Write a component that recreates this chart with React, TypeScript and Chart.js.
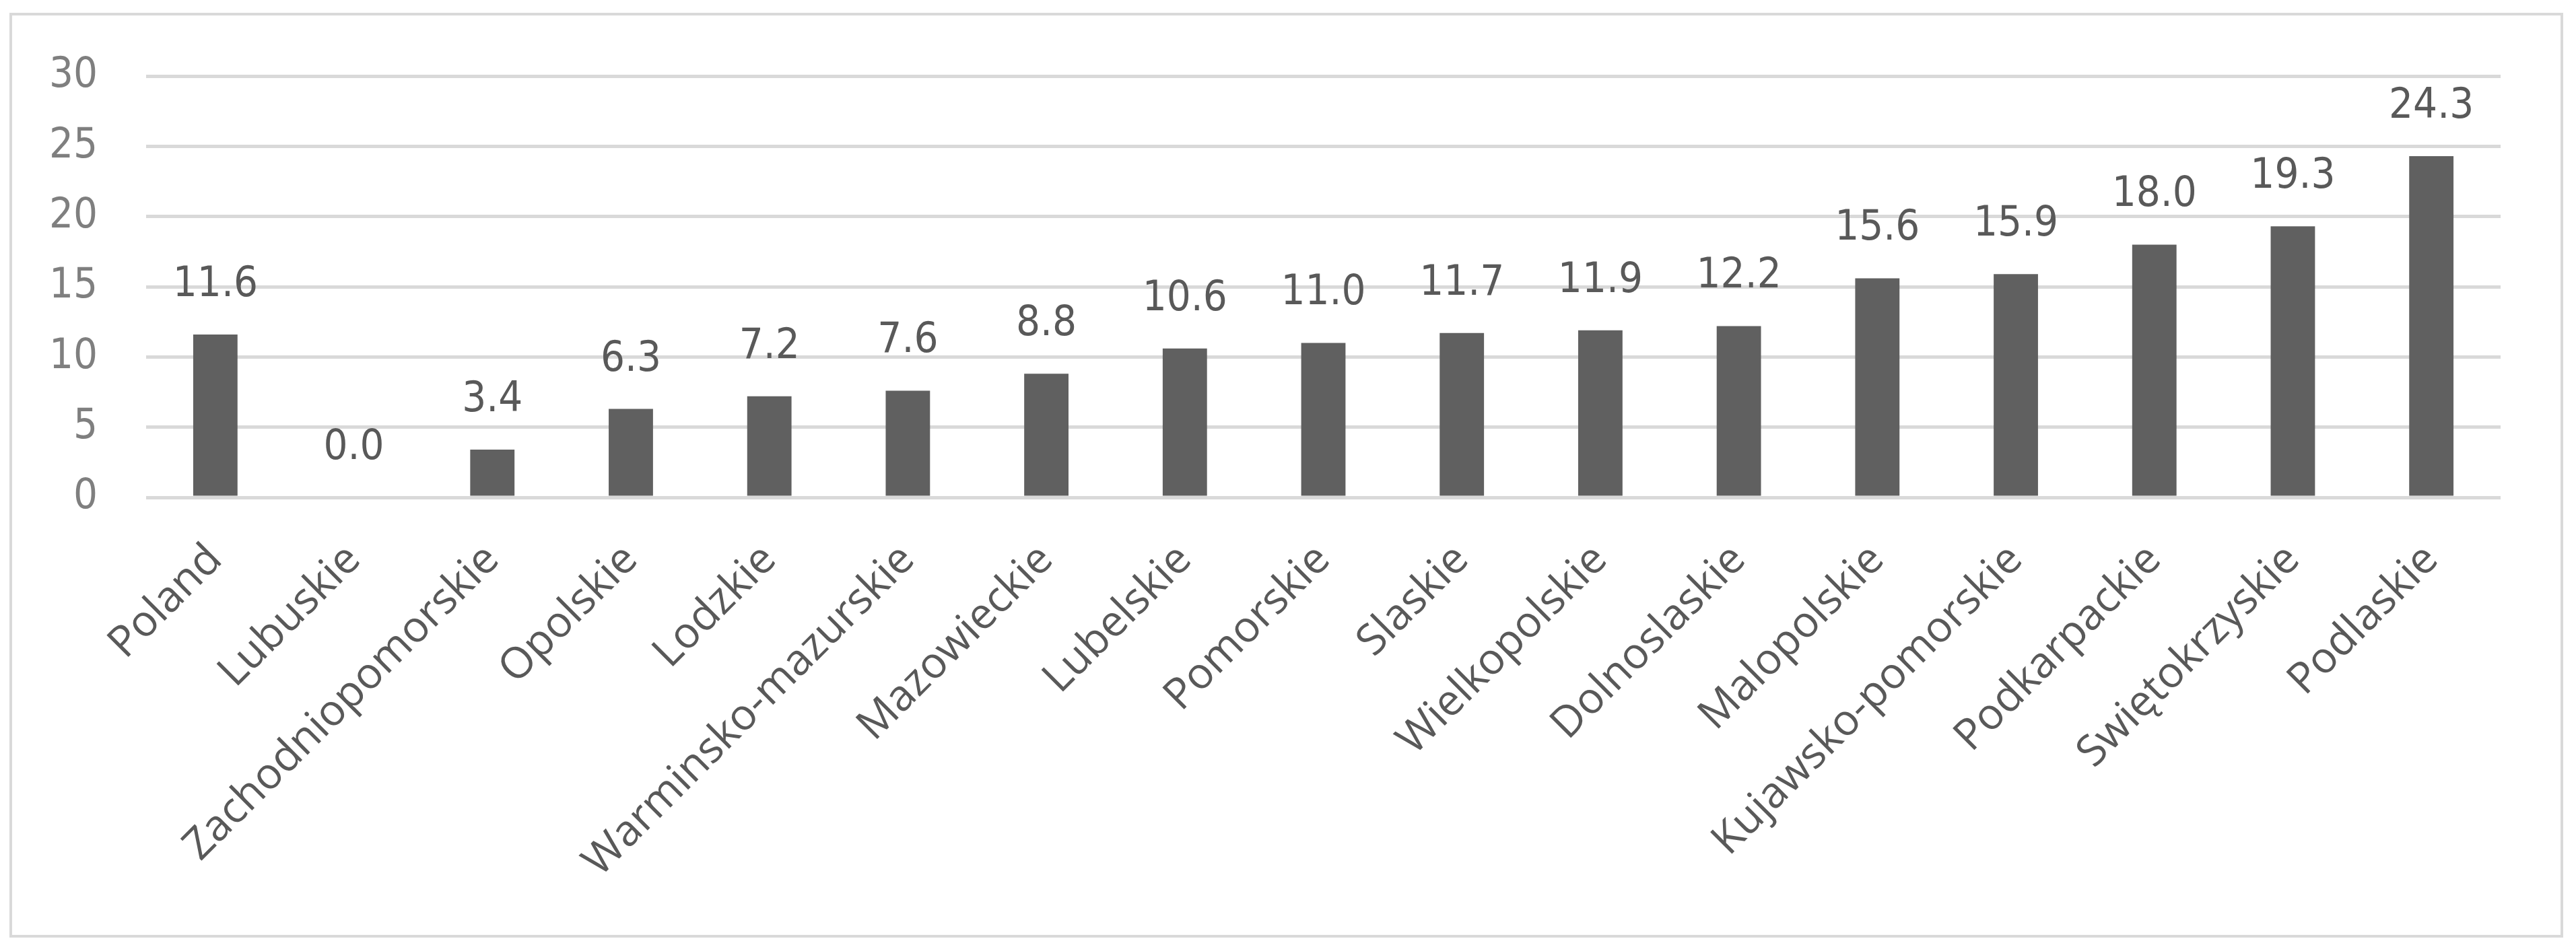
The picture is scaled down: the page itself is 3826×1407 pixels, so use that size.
import React, { useEffect, useRef } from "react";
import { Chart, registerables } from "chart.js";

Chart.register(...registerables);

const categories: string[] = [
  "Poland",
  "Lubuskie",
  "Zachodniopomorskie",
  "Opolskie",
  "Lodzkie",
  "Warminsko-mazurskie",
  "Mazowieckie",
  "Lubelskie",
  "Pomorskie",
  "Slaskie",
  "Wielkopolskie",
  "Dolnoslaskie",
  "Malopolskie",
  "Kujawsko-pomorskie",
  "Podkarpackie",
  "Swiętokrzyskie",
  "Podlaskie",
];

const values: number[] = [
  11.6, 0.0, 3.4, 6.3, 7.2, 7.6, 8.8, 10.6, 11.0, 11.7, 11.9, 12.2, 15.6, 15.9, 18.0, 19.3, 24.3,
];

const yMin = 0;
const yMax = 30;
const yStep = 5;

const NUM_FONT = "'DejaVu Sans Condensed', 'DejaVu Sans', sans-serif";
const LABEL_FONT = "'Open Sans', 'Noto Sans', sans-serif";

const valueLabelPlugin = {
  id: "valueLabels",
  afterDatasetsDraw(chart: any) {
    const ctx = chart.ctx;
    const meta = chart.getDatasetMeta(0);
    ctx.save();
    ctx.font = `63px ${NUM_FONT}`;
    ctx.fillStyle = "#595959";
    ctx.textAlign = "center";
    ctx.textBaseline = "alphabetic";
    meta.data.forEach((bar: any, i: number) => {
      const v = chart.data.datasets[0].data[i] as number;
      ctx.fillText(v.toFixed(1), bar.x, bar.y - 57);
    });
    ctx.restore();
  },
};

export default function App() {
  const canvasRef = useRef<HTMLCanvasElement | null>(null);

  useEffect(() => {
    if (!canvasRef.current) return;
    const chart = new Chart(canvasRef.current, {
      type: "bar",
      data: {
        labels: categories,
        datasets: [
          {
            data: values,
            backgroundColor: "#606060",
            borderWidth: 0,
            barPercentage: 0.32,
            categoryPercentage: 1,
          },
        ],
      },
      options: {
        animation: false,
        responsive: false,
        maintainAspectRatio: false,
        layout: { padding: { left: 0, right: 89, top: 90, bottom: 0 } },
        plugins: {
          legend: { display: false },
          tooltip: { enabled: false },
          title: { display: false },
        },
        scales: {
          x: {
            grid: { display: false, drawTicks: false },
            border: { display: false },
            ticks: {
              autoSkip: false,
              maxRotation: 45,
              minRotation: 45,
              padding: 55,
              color: "#595959",
              font: { family: LABEL_FONT, size: 64 },
            },
            afterFit(scale: any) {
              scale.height = 650;
              scale.paddingLeft = 0;
              scale.paddingRight = 0;
            },
          },
          y: {
            min: yMin,
            max: yMax,
            grid: { color: "#d9d9d9", lineWidth: 5, drawTicks: false },
            border: { display: false },
            ticks: {
              stepSize: yStep,
              padding: 72,
              color: "#7f7f7f",
              font: { family: NUM_FONT, size: 63 },
            },
            afterFit(scale: any) {
              scale.width = 199;
              scale.paddingTop = 0;
              scale.paddingBottom = 0;
            },
          },
        },
      },
      plugins: [valueLabelPlugin],
    });
    return () => chart.destroy();
  }, []);

  return (
    <div style={{ position: "relative", width: 3810, height: 1391 }}>
      <div
        style={{
          position: "absolute",
          left: 6,
          top: 11,
          width: 3793,
          height: 1374,
          border: "4px solid #d9d9d9",
          boxSizing: "border-box",
          background: "#ffffff",
        }}
      >
        <canvas ref={canvasRef} width={3785} height={1366} style={{ display: "block", width: 3785, height: 1366 }} />
      </div>
    </div>
  );
}
